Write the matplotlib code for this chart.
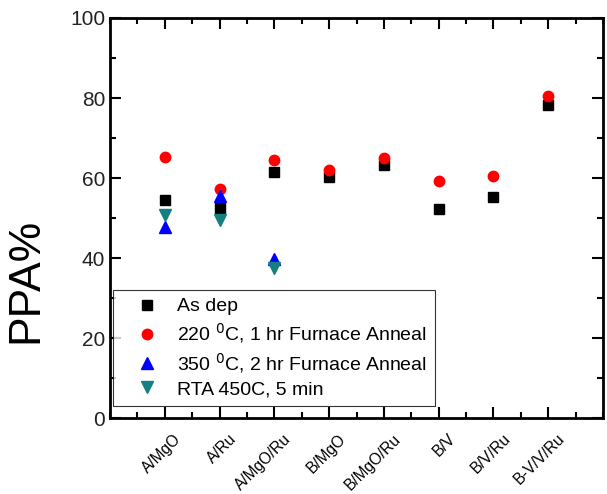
import matplotlib.pyplot as plt
import matplotlib.transforms as mtransforms
from matplotlib.ticker import MultipleLocator

plt.rcParams['font.family'] = ['Liberation Sans', 'DejaVu Sans']

# sample names
samples = ['A/MgO', 'A/Ru', 'A/MgO/Ru', 'B/MgO', 'B/MgO/Ru', 'B/V', 'B/V/Ru', 'B-V/V/Ru']

# PPA % values
as_dep = [54.5, 52.5, 61.5, 60.3, 63.2, 52.3, 55.3, 78.3]
fa_220 = [65.2, 57.3, 64.4, 61.9, 65.1, 59.3, 60.6, 80.5]
fa_350 = [47.8, 55.4, 39.8]
rta_450 = [50.8, 49.6, 37.5]

x = list(range(1, len(samples) + 1))

fig = plt.figure(figsize=(6.07, 4.94), dpi=100)
ax = fig.add_axes([110/607, 1 - 418/494, 493/607, 400/494])

ax.plot(x, as_dep, 's', color='black', ms=7, label='As dep')
ax.plot(x, fa_220, 'o', color='red', ms=7.5, label='220 $^{0}$C, 1 hr Furnace Anneal')
ax.plot(x[:3], fa_350, '^', color='blue', ms=8, label='350 $^{0}$C, 2 hr Furnace Anneal')
ax.plot(x[:3], rta_450, 'v', color='#148080', ms=8, label='RTA 450C, 5 min')

ax.set_xlim(0, 9)
ax.set_ylim(0, 100)
ax.set_xticks(x)
ax.set_xticklabels([])
# rotated category labels, placed a bit right of and below each tick
trans = mtransforms.blended_transform_factory(ax.transData, ax.transAxes)
trans = trans + mtransforms.ScaledTranslation(9/100, -13/100, fig.dpi_scale_trans)
for xi, name in zip(x, samples):
    ax.text(xi, 0, name, transform=trans, rotation=45, rotation_mode='anchor',
            ha='right', va='top', fontsize=11.2)

ax.xaxis.set_minor_locator(MultipleLocator(0.5))
ax.yaxis.set_major_locator(MultipleLocator(20))
ax.yaxis.set_minor_locator(MultipleLocator(10))
ax.tick_params(which='both', direction='in', top=True, right=True, width=1.5)
ax.tick_params(which='major', length=8)
ax.tick_params(which='minor', length=4)
ax.tick_params(axis='y', labelsize=15, labelcolor='#222222')
for s in ax.spines.values():
    s.set_linewidth(2)

ax.set_ylabel('PPA%', fontsize=32)
ax.yaxis.set_label_coords(-64/493, 0.345)

leg = ax.legend(loc='lower left', bbox_to_anchor=(3/493, 12/400), fontsize=14,
                frameon=True, fancybox=False, edgecolor='black',
                handletextpad=0.2, borderpad=0.4, labelspacing=0.3,
                borderaxespad=0, handlelength=2.7)
leg.get_frame().set_linewidth(0.8)

fig.savefig('out.png', dpi=100)
